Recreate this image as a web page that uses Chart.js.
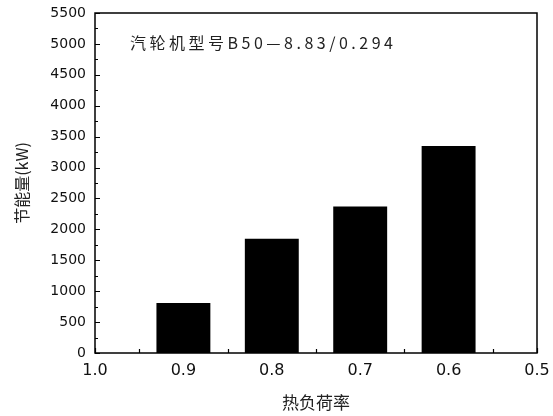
<!DOCTYPE html>
<html>
<head>
  <title>节能量</title>
  <script src="https://cdn.jsdelivr.net/npm/chart.js@4.4.0/dist/chart.umd.min.js"></script>
  <style>
    body { margin: 0; background: #fff; }
    #wrap { width: 553px; height: 416px; }
  </style>
</head>
<body>
  <div id="wrap"><canvas id="saveChart" width="553" height="416"></canvas></div>

  <script>
    // load ratio (x) and energy saving (kW)
    var loadRatio = [0.9, 0.8, 0.7, 0.6];
    var savings = [810, 1850, 2370, 3350];
    var xTickLabels = ['0.5', '0.6', '0.7', '0.8', '0.9', '1.0'];
    var noteText = '汽轮机型号B50—8.83/0.294';
    var xTitle = '热负荷率';
    var yTitle = '节能量(kW)';

    var cjk = '"Noto Sans CJK SC", "DejaVu Sans", sans-serif';

    // frame, inward ticks and the note inside the plot
    var framePlugin = {
      id: 'frame',
      afterDraw: function(chart) {
        var c = chart.ctx, a = chart.chartArea;
        var xs = chart.scales.x, ys = chart.scales.y;
        c.save();
        c.strokeStyle = '#000';
        c.lineWidth = 1.5;
        c.strokeRect(a.left, a.top, a.right - a.left, a.bottom - a.top);
        c.lineWidth = 1.2;
        c.beginPath();
        for (var v = 0; v <= 5500; v += 250) {
          var py = Math.round(ys.getPixelForValue(v)) + 0.5;
          var len = (v % 500 === 0) ? 5 : 3;
          c.moveTo(a.left, py);
          c.lineTo(a.left + len, py);
        }
        for (var k = 0; k <= 10; k++) {
          var xv = 0.5 + k * 0.05;
          var px = Math.round(xs.getPixelForValue(xv)) + 0.5;
          var l2 = (k % 2 === 0) ? 5 : 4;
          c.moveTo(px, a.bottom);
          c.lineTo(px, a.bottom - l2);
        }
        c.stroke();

        c.fillStyle = '#222';
        c.font = '16px ' + cjk;
        c.textBaseline = 'middle';
        c.letterSpacing = '3.5px';
        c.fillText(noteText, a.left + 35, a.top + 30);
        c.restore();
      }
    };

    var ctx = document.getElementById('saveChart').getContext('2d');

    var config = {
      type: 'bar',
      data: {
        datasets: [{
          data: loadRatio.map(function(x, i) { return { x: x, y: savings[i] }; }),
          backgroundColor: '#000',
          borderWidth: 0,
          barPercentage: 0.61,
          categoryPercentage: 1.0
        }]
      },
      options: {
        responsive: false,
        animation: false,
        layout: { padding: { top: 13, right: 16, left: 0, bottom: 0 } },
        plugins: {
          legend: { display: false },
          tooltip: { enabled: false }
        },
        scales: {
          x: {
            type: 'linear',
            reverse: true,
            min: 0.5,
            max: 1.0,
            offset: false,
            grid: { display: false, drawTicks: false, offset: false },
            border: { display: false },
            ticks: {
              stepSize: 0.1,
              padding: 8,
              color: '#111',
              font: { family: '"DejaVu Sans", sans-serif', size: 16 },
              callback: function(v) {
                var s = Number(v).toFixed(1);
                return xTickLabels.indexOf(s) >= 0 ? s : '';
              }
            },
            title: {
              display: true,
              text: xTitle,
              color: '#222',
              font: { family: cjk, size: 17 },
              padding: { top: 0, bottom: 3 }
            },
            afterFit: function(s) { s.height = 63; s.paddingLeft = 0; s.paddingRight = 0; }
          },
          y: {
            min: 0,
            max: 5500,
            grid: { display: false, drawTicks: false },
            border: { display: false },
            ticks: {
              stepSize: 500,
              padding: 9,
              color: '#111',
              font: { family: '"DejaVu Sans", sans-serif', size: 14 },
              callback: function(v) { return String(v); }
            },
            title: {
              display: true,
              text: yTitle,
              color: '#222',
              font: { family: cjk, size: 16 },
              padding: { top: 12, bottom: 0 }
            },
            afterFit: function(s) { s.width = 95; s.paddingTop = 0; s.paddingBottom = 0; }
          }
        }
      },
      plugins: [framePlugin]
    };

    var saveChart = new Chart(ctx, config);
  </script>
</body>
</html>
